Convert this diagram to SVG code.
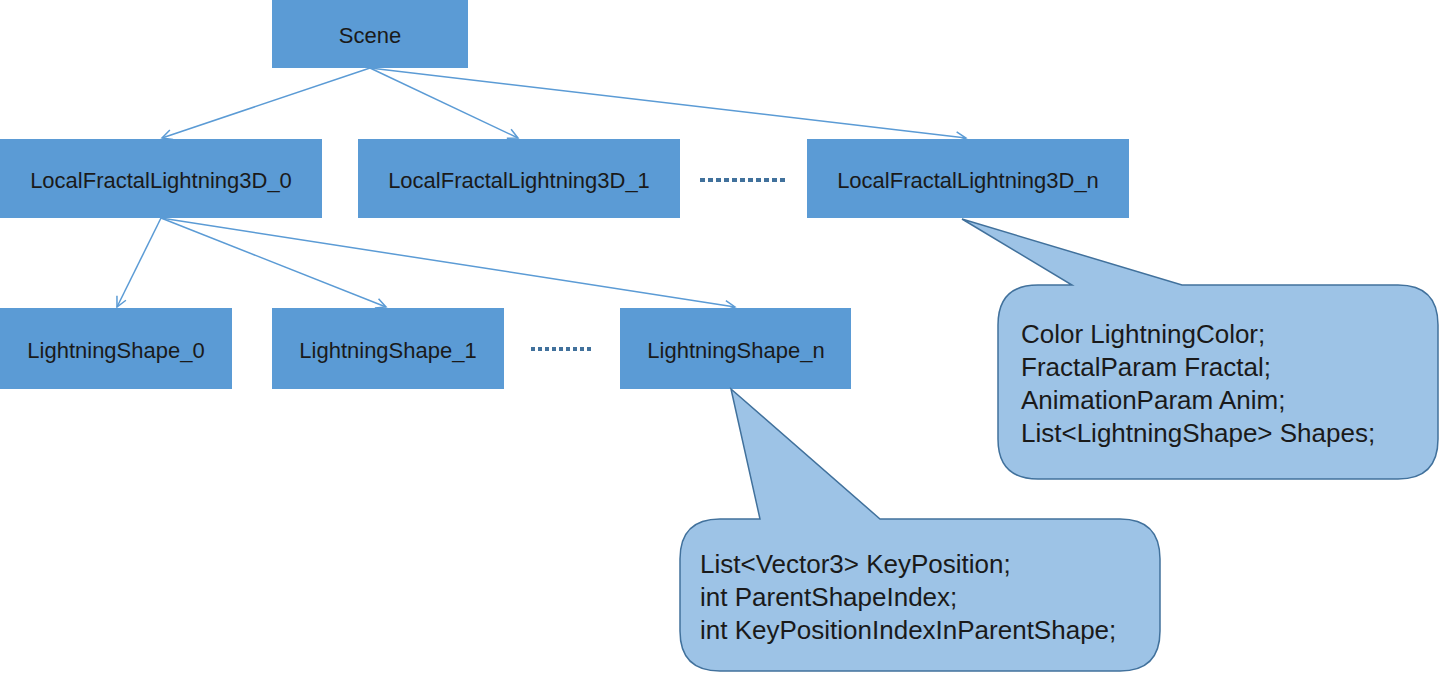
<svg xmlns="http://www.w3.org/2000/svg" width="1440" height="673" viewBox="0 0 1440 673">
<style>
.node{fill:#5B9BD5;}
.lbl{font-family:"Liberation Sans",Arial,sans-serif;font-size:22px;fill:#1a1a1a;text-anchor:middle;}
.call{fill:#9DC3E6;stroke:#41719C;stroke-width:1.5;}
.ct{font-family:"Liberation Sans",Arial,sans-serif;font-size:26px;fill:#1a1a1a;}
.edge{stroke:#5B9BD5;stroke-width:1.5;fill:none;marker-end:url(#arr);}
.dots{stroke:#41719C;stroke-width:4;}
</style>
<defs>
<marker id="arr" markerUnits="userSpaceOnUse" markerWidth="14" markerHeight="14" refX="11" refY="6" orient="auto">
<path d="M1,1 L11,6 L1,11" fill="none" stroke="#5B9BD5" stroke-width="1.5"/>
</marker>
</defs>
<rect width="1440" height="673" fill="#ffffff"/>
<g id="connectors">
<line class="edge" x1="370" y1="68" x2="162" y2="138"/>
<line class="edge" x1="370" y1="68" x2="518" y2="138"/>
<line class="edge" x1="370" y1="68" x2="966" y2="138"/>
<line class="edge" x1="161" y1="218" x2="117" y2="307"/>
<line class="edge" x1="161" y1="218" x2="386" y2="307"/>
<line class="edge" x1="161" y1="218" x2="735" y2="307"/>
</g>
<g id="scene"><rect class="node" x="272" y="0" width="196" height="68"/><text class="lbl" x="370" y="43">Scene</text></g>
<g id="lfl0"><rect class="node" x="0" y="139" width="322" height="79"/><text class="lbl" x="161" y="188">LocalFractalLightning3D_0</text></g>
<g id="lfl1"><rect class="node" x="358" y="139" width="322" height="79"/><text class="lbl" x="519" y="188">LocalFractalLightning3D_1</text></g>
<g id="lfln"><rect class="node" x="807" y="139" width="322" height="79"/><text class="lbl" x="968" y="188">LocalFractalLightning3D_n</text></g>
<g id="dots1"><line class="dots" x1="700" y1="180" x2="788" y2="180" stroke-dasharray="5 3"/></g>
<g id="ls0"><rect class="node" x="0" y="308" width="232" height="81"/><text class="lbl" x="116" y="358">LightningShape_0</text></g>
<g id="ls1"><rect class="node" x="272" y="308" width="232" height="81"/><text class="lbl" x="388" y="358">LightningShape_1</text></g>
<g id="lsn"><rect class="node" x="620" y="308" width="231" height="81"/><text class="lbl" x="736" y="358">LightningShape_n</text></g>
<g id="dots2"><line class="dots" x1="531" y1="349" x2="594" y2="349" stroke-dasharray="4 3"/></g>
<g id="callout1">
<path class="call" d="M962,219 L1182,285 L1398,285 Q1438,285 1438,325 L1438,439 Q1438,479 1398,479 L1038,479 Q998,479 998,439 L998,325 Q998,285 1038,285 L1072,285 Z"/>
<text class="ct" x="1021" y="343">Color LightningColor;</text>
<text class="ct" x="1021" y="376">FractalParam Fractal;</text>
<text class="ct" x="1021" y="409">AnimationParam Anim;</text>
<text class="ct" x="1021" y="442">List&lt;LightningShape&gt; Shapes;</text>
</g>
<g id="callout2">
<path class="call" d="M731,389 L880,519 L1120,519 Q1160,519 1160,559 L1160,631 Q1160,671 1120,671 L720,671 Q680,671 680,631 L680,559 Q680,519 720,519 L760,519 Z"/>
<text class="ct" x="700" y="573">List&lt;Vector3&gt; KeyPosition;</text>
<text class="ct" x="700" y="606">int ParentShapeIndex;</text>
<text class="ct" x="700" y="639">int KeyPositionIndexInParentShape;</text>
</g>
</svg>
